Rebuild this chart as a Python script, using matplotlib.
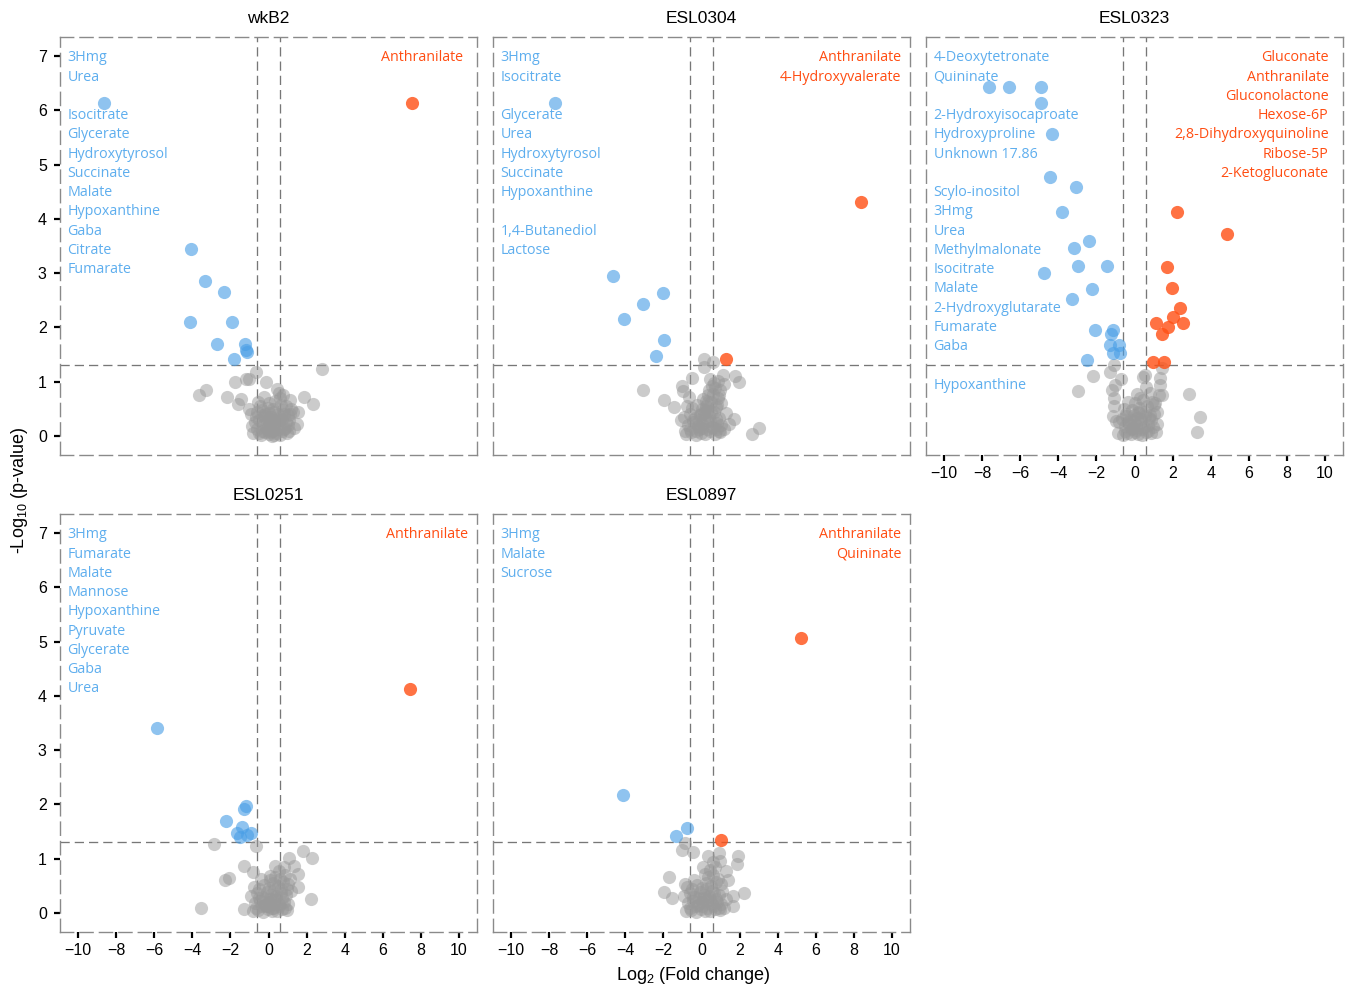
import matplotlib
matplotlib.use("Agg")
import matplotlib.pyplot as plt

plt.rcParams["font.family"] = ["Liberation Sans", "DejaVu Sans"]
plt.rcParams["mathtext.default"] = "regular"

# ---------------------------------------------------------------- data
panel_titles = ["wkB2", "ESL0304", "ESL0323", "ESL0251", "ESL0897"]
x_ticks = [-10, -8, -6, -4, -2, 0, 2, 4, 6, 8, 10]
y_ticks = [0, 1, 2, 3, 4, 5, 6, 7]
fc_cut = 0.585      # log2(1.5)
p_cut = 1.301       # -log10(0.05)

# wkB2
wkb2_down_x = [-8.64, -4.07, -3.33, -2.34, -4.12, -1.92, -2.70, -1.81, -1.23, -1.18, -1.13]
wkb2_down_y = [6.13, 3.44, 2.85, 2.65, 2.10, 2.10, 1.69, 1.42, 1.69, 1.58, 1.55]
wkb2_up_x = [7.53]
wkb2_up_y = [6.13]
wkb2_ns_x = [2.79, -0.66, -1.74, -1.18, -1.01, -0.15, -3.28, -3.63, -2.19, -1.43,
             -1.58, -1.02, -0.24, 0.43, 1.88, 2.32, 0.74, 1.13, 1.08, 1.48,
             1.30, -0.80, -0.60, -0.40, -0.20, 0.00, 0.20, 0.40, 0.60, 0.80,
             -0.70, -0.50, -0.30, -0.10, 0.10, 0.30, 0.50, 0.70, 0.90, 1.10,
             -0.90, -0.60, -0.30, 0.00, 0.25, 0.50, 0.75, 1.00, 1.20, -0.45,
             0.05, 0.35, 0.65, 0.90, -0.15, 0.15, 0.45, -0.35, 0.60, -0.55,
             0.95, -0.85, 0.30, -0.05, 1.35, 0.80, 0.55, 0.20, -0.25, 1.55,
             -0.65, -0.35, -0.05, 0.25, 0.55, 0.85, 1.15, -0.50, -0.20, 0.10,
             0.40, 0.70, 1.00, 0.00, 0.30, 0.60]
wkb2_ns_y = [1.23, 1.17, 1.00, 1.05, 1.05, 1.00, 0.85, 0.76, 0.71, 0.68,
             0.59, 0.49, 0.72, 0.86, 0.71, 0.59, 0.76, 0.66, 0.09, 0.23,
             0.45, 0.05, 0.12, 0.02, 0.08, 0.03, 0.10, 0.05, 0.02, 0.12,
             0.25, 0.30, 0.20, 0.28, 0.18, 0.30, 0.22, 0.32, 0.25, 0.30,
             0.40, 0.45, 0.38, 0.42, 0.50, 0.40, 0.48, 0.38, 0.50, 0.55,
             0.60, 0.65, 0.58, 0.55, 0.15, 0.35, 0.12, 0.48, 0.70, 0.62,
             0.05, 0.18, 0.02, 0.52, 0.15, 0.40, 0.80, 0.00, 0.35, 0.45,
             0.35, 0.10, 0.15, 0.22, 0.30, 0.15, 0.40, 0.05, 0.40, 0.08,
             0.28, 0.10, 0.20, 0.30, 0.45, 0.35]

# ESL0304
e304_down_x = [-7.69, -4.66, -2.04, -3.07, -4.08, -1.97, -2.40]
e304_down_y = [6.13, 2.95, 2.63, 2.44, 2.16, 1.76, 1.47]
e304_up_x = [8.37, 1.30]
e304_up_y = [4.31, 1.41]
e304_ns_x = [0.13, 0.13, 0.60, -0.48, -3.05, -1.98, -1.43, -1.01, -0.99, 1.11,
             1.76, 1.97, 1.18, 0.45, 1.71, 3.03, 2.64, 1.20, 1.29, 0.85,
             -0.80, -0.55, -0.30, -0.05, 0.20, 0.45, 0.70, 0.95, -0.70, -0.45,
             -0.20, 0.05, 0.30, 0.55, 0.80, 1.05, -0.90, -0.60, -0.35, -0.10,
             0.15, 0.40, 0.65, 0.90, -0.75, -0.50, -0.25, 0.00, 0.25, 0.50,
             0.75, 1.00, -0.65, 0.10, 0.35, 0.60, 0.85, 0.70, 0.55, 0.95,
             0.40, -0.15, 0.80, -0.85, 0.25, 1.45, -1.10, 0.65, 0.90, 0.30,
             -0.60, -0.30, 0.00, 0.30, 0.60, 0.90, -0.45, -0.15, 0.15, 0.45,
             0.75, 0.50, 0.20, -0.05, 0.35, 0.80]
e304_ns_y = [1.42, 1.27, 1.36, 1.06, 0.85, 0.66, 0.54, 0.92, 0.82, 1.12,
             1.10, 1.00, 0.96, 1.05, 0.32, 0.15, 0.03, 0.13, 0.43, 1.02,
             0.03, 0.08, 0.02, 0.06, 0.04, 0.09, 0.03, 0.07, 0.20, 0.25,
             0.18, 0.22, 0.28, 0.17, 0.24, 0.20, 0.35, 0.40, 0.33, 0.38,
             0.42, 0.36, 0.45, 0.34, 0.55, 0.52, 0.58, 0.50, 0.56, 0.62,
             0.53, 0.60, 0.72, 0.68, 0.75, 0.78, 0.70, 0.88, 0.92, 0.85,
             0.84, 0.12, 0.12, 0.10, 0.64, 0.22, 0.30, 0.98, 0.76, 0.46,
             0.12, 0.10, 0.14, 0.12, 0.14, 0.10, 0.30, 0.30, 0.30, 0.28,
             0.32, 0.45, 0.48, 0.40, 0.62, 0.58]

# ESL0323
e323_down_x = [-7.64, -6.59, -4.91, -4.91, -4.33, -4.45, -3.07, -3.79, -2.39, -3.19,
               -2.98, -1.43, -4.73, -2.25, -3.28, -2.06, -1.14, -1.23, -1.27, -0.80,
               -1.14, -0.76, -2.51]
e323_down_y = [6.42, 6.42, 6.42, 6.13, 5.57, 4.77, 4.59, 4.12, 3.59, 3.46,
               3.13, 3.13, 3.01, 2.71, 2.53, 1.95, 1.95, 1.87, 1.67, 1.67,
               1.53, 1.53, 1.40]
e323_up_x = [2.25, 4.84, 1.69, 1.97, 2.37, 2.04, 2.56, 1.13, 1.76, 1.43, 0.96, 1.55]
e323_up_y = [4.13, 3.72, 3.12, 2.72, 2.35, 2.20, 2.09, 2.09, 2.01, 1.88, 1.36, 1.36]
e323_ns_x = [-2.19, -2.97, 2.86, 3.42, 3.26, -1.08, -1.29, -0.71, -1.02, -1.06,
             -1.11, -0.85, 0.11, 0.46, 1.43, 1.34, 1.43, 1.34, 1.13, 1.16,
             0.81, 0.55, 1.30, 0.81, -1.10, -1.20, -0.60, -0.40, -0.20, 0.00,
             0.20, 0.40, 0.60, 0.85, -0.50, -0.30, -0.10, 0.10, 0.30, 0.50,
             0.70, 0.95, -0.65, -0.45, -0.25, -0.05, 0.15, 0.35, 0.55, 0.75,
             1.00, -0.55, -0.15, 0.25, 0.65, 1.05, -0.35, 0.05, 0.45, 0.90,
             -0.80, 0.20, 1.20, -0.95, 0.60, -0.50, -0.20, 0.10, 0.40, 0.70,
             -0.35, -0.05, 0.25, 0.55, 0.85, 1.10, -0.45, 0.30]
e323_ns_y = [1.11, 0.82, 0.77, 0.35, 0.07, 1.31, 1.17, 1.05, 0.94, 0.70,
             0.36, 0.05, 0.77, 1.09, 1.25, 1.06, 0.76, 0.94, 0.08, 0.22,
             0.39, 1.12, 0.76, 0.79, 0.55, 0.85, 0.02, 0.06, 0.03, 0.08,
             0.04, 0.02, 0.07, 0.05, 0.18, 0.22, 0.15, 0.20, 0.24, 0.17,
             0.21, 0.16, 0.32, 0.36, 0.30, 0.38, 0.34, 0.31, 0.37, 0.33,
             0.40, 0.50, 0.48, 0.52, 0.55, 0.58, 0.62, 0.60, 0.66, 0.62,
             0.25, 0.45, 0.45, 0.28, 0.90, 0.10, 0.12, 0.11, 0.13, 0.10,
             0.26, 0.27, 0.42, 0.44, 0.30, 0.60, 0.40, 0.70]

# ESL0251
e251_down_x = [-5.87, -1.20, -1.30, -2.25, -1.41, -1.67, -1.50, -0.92, -1.11]
e251_down_y = [3.40, 1.98, 1.91, 1.69, 1.59, 1.48, 1.40, 1.48, 1.43]
e251_up_x = [7.43]
e251_up_y = [4.12]
e251_ns_x = [-2.86, -0.67, 1.83, 2.27, 1.09, -1.27, -2.06, -2.30, -0.83, 1.35,
             1.53, 1.53, 2.23, -3.54, -1.29, 0.34, 0.08, -0.80, -0.55, -0.30,
             -0.05, 0.20, 0.45, 0.70, 0.95, -0.70, -0.45, -0.20, 0.05, 0.30,
             0.55, 0.80, 1.05, -0.90, -0.60, -0.35, -0.10, 0.15, 0.40, 0.65,
             0.90, -0.75, -0.50, -0.25, 0.00, 0.25, 0.50, 0.75, 1.00, -0.40,
             0.10, 0.35, 0.60, 0.85, 1.15, 0.55, 0.80, -0.15, 0.95, 0.20,
             -0.65, -0.35, -0.05, 0.25, 0.55, 0.85, -0.50, -0.20, 0.10, 0.40,
             0.70, 1.20, 0.30, 0.65]
e251_ns_y = [1.27, 1.24, 1.15, 1.02, 1.02, 0.87, 0.65, 0.61, 0.75, 0.87,
             0.72, 0.47, 0.25, 0.10, 0.07, 0.87, 0.68, 0.03, 0.06, 0.02,
             0.08, 0.04, 0.03, 0.07, 0.05, 0.18, 0.22, 0.15, 0.20, 0.24,
             0.17, 0.21, 0.16, 0.32, 0.36, 0.30, 0.38, 0.34, 0.31, 0.37,
             0.33, 0.48, 0.45, 0.52, 0.46, 0.55, 0.50, 0.58, 0.53, 0.62,
             0.60, 0.66, 0.62, 0.70, 0.62, 0.78, 0.85, 0.12, 0.45, 0.10,
             0.10, 0.12, 0.12, 0.10, 0.12, 0.10, 0.28, 0.27, 0.26, 0.25,
             0.28, 0.40, 0.42, 0.45]

# ESL0897
e897_down_x = [-4.12, -0.78, -1.34]
e897_down_y = [2.17, 1.56, 1.42]
e897_up_x = [5.22, 1.02]
e897_up_y = [5.06, 1.35]
e897_ns_x = [-0.87, -1.01, -0.46, 0.36, 0.94, 1.93, 1.85, -1.69, -1.97, -1.56,
             2.23, 1.64, 1.67, 1.41, 1.29, 0.10, 0.62, -0.87, -0.80, -0.55,
             -0.30, -0.05, 0.20, 0.45, 0.70, 0.95, 1.20, -0.70, -0.45, -0.20,
             0.05, 0.30, 0.55, 0.80, 1.05, -0.90, -0.60, -0.35, -0.10, 0.15,
             0.40, 0.65, 0.90, -0.75, -0.50, -0.25, 0.00, 0.25, 0.50, 0.75,
             1.00, 0.35, 0.60, 0.85, 0.20, 0.45, 0.70, -0.40, 1.10, 0.95,
             -0.60, -0.30, 0.00, 0.30, 0.60, 0.90, -0.15, 0.15, 0.45, 0.75,
             -0.45, 1.30, 0.55, 0.25]
e897_ns_y = [1.29, 1.16, 1.12, 1.05, 1.10, 1.05, 0.90, 0.66, 0.39, 0.27,
             0.36, 0.32, 0.13, 0.61, 0.77, 0.84, 0.94, 0.53, 0.03, 0.06,
             0.02, 0.08, 0.04, 0.03, 0.07, 0.05, 0.10, 0.18, 0.22, 0.15,
             0.20, 0.24, 0.17, 0.21, 0.16, 0.32, 0.36, 0.30, 0.38, 0.34,
             0.31, 0.37, 0.33, 0.48, 0.45, 0.52, 0.46, 0.55, 0.50, 0.58,
             0.53, 0.66, 0.70, 0.62, 0.72, 0.80, 0.85, 0.60, 0.40, 0.95,
             0.10, 0.12, 0.12, 0.10, 0.12, 0.10, 0.28, 0.27, 0.26, 0.25,
             0.30, 0.25, 0.40, 0.45]

# metabolite names (blank entries keep the line spacing of the listing)
wkb2_down_names = ["3Hmg", "Urea", "", "Isocitrate", "Glycerate", "Hydroxytyrosol",
                   "Succinate", "Malate", "Hypoxanthine", "Gaba", "Citrate", "Fumarate"]
wkb2_up_names = ["Anthranilate"]
e304_down_names = ["3Hmg", "Isocitrate", "", "Glycerate", "Urea", "Hydroxytyrosol",
                   "Succinate", "Hypoxanthine", "", "1,4-Butanediol", "Lactose"]
e304_up_names = ["Anthranilate", "4-Hydroxyvalerate"]
e323_down_names = ["4-Deoxytetronate", "Quininate", "", "2-Hydroxyisocaproate",
                   "Hydroxyproline", "Unknown 17.86", "", "Scylo-inositol", "3Hmg",
                   "Urea", "Methylmalonate", "Isocitrate", "Malate",
                   "2-Hydroxyglutarate", "Fumarate", "Gaba", "", "Hypoxanthine"]
e323_up_names = ["Gluconate", "Anthranilate", "Gluconolactone", "Hexose-6P",
                 "2,8-Dihydroxyquinoline", "Ribose-5P", "2-Ketogluconate"]
e251_down_names = ["3Hmg", "Fumarate", "Malate", "Mannose", "Hypoxanthine",
                   "Pyruvate", "Glycerate", "Gaba", "Urea"]
e251_up_names = ["Anthranilate"]
e897_down_names = ["3Hmg", "Malate", "Sucrose"]
e897_up_names = ["Anthranilate", "Quininate"]

panels = [
    (wkb2_ns_x, wkb2_ns_y, wkb2_down_x, wkb2_down_y, wkb2_up_x, wkb2_up_y, wkb2_down_names, wkb2_up_names),
    (e304_ns_x, e304_ns_y, e304_down_x, e304_down_y, e304_up_x, e304_up_y, e304_down_names, e304_up_names),
    (e323_ns_x, e323_ns_y, e323_down_x, e323_down_y, e323_up_x, e323_up_y, e323_down_names, e323_up_names),
    (e251_ns_x, e251_ns_y, e251_down_x, e251_down_y, e251_up_x, e251_up_y, e251_down_names, e251_up_names),
    (e897_ns_x, e897_ns_y, e897_down_x, e897_down_y, e897_up_x, e897_up_y, e897_down_names, e897_up_names),
]

# ---------------------------------------------------------------- style
W, H = 1354, 988
grey_pt = "#999999"
blue_pt = "#4a9fe6"
orange_pt = "#ff4f14"
blue_txt = "#5eaeee"
orange_txt = "#ff4d12"
label_font = ["Open Sans", "DejaVu Sans"]

# panel boxes in pixels: (left, top)
boxes = [(60, 37), (493, 37), (926, 37), (60, 514), (493, 514)]
box_w, box_h = 417, 418
show_y = [True, False, False, True, False]
show_x = [False, False, True, True, True]
right_pad = [10.2, 10.5, 10.2, 10.5, 10.5]

fig = plt.figure(figsize=(W / 100, H / 100), dpi=100)

for i, (box, data) in enumerate(zip(boxes, panels)):
    nsx, nsy, dx, dy, ux, uy, dnames, unames = data
    left, top = box
    ax = fig.add_axes([left / W, 1 - (top + box_h) / H, box_w / W, box_h / H])
    ax.set_xlim(-10.95, 10.95)
    ax.set_ylim(-0.35, 7.35)

    ax.scatter(nsx, nsy, s=90, color=grey_pt, alpha=0.5, linewidths=0, zorder=2)
    ax.scatter(dx, dy, s=90, color=blue_pt, alpha=0.62, linewidths=0, zorder=3)
    ax.scatter(ux, uy, s=90, color=orange_pt, alpha=0.8, linewidths=0, zorder=3)

    ref = dict(color="#777777", lw=0.95, ls=(0, (7, 3.8)), zorder=1)
    ax.axvline(-fc_cut, **ref)
    ax.axvline(fc_cut, **ref)
    ax.axhline(p_cut, **ref)

    for k, name in enumerate(dnames):
        if name:
            ax.text(-10.55, 6.965 - k * 0.3545, name, color=blue_txt, fontsize=10.3,
                    family=label_font, ha="left", va="center", zorder=4)
    for k, name in enumerate(unames):
        ax.text(right_pad[i], 6.965 - k * 0.3545, name, color=orange_txt, fontsize=10.3,
                family=label_font, ha="right", va="center", zorder=4)

    for sp in ax.spines.values():
        sp.set_color("#8a8a8a")
        sp.set_linewidth(1.0)
        sp.set_linestyle((0, (9.5, 4.5)))

    ax.set_title(panel_titles[i], fontsize=12.5, pad=10)
    ax.set_xticks(x_ticks)
    ax.set_yticks(y_ticks)
    ax.tick_params(length=4.5, width=1.6, color="black", labelsize=11.5, pad=3.5)
    ax.tick_params(axis="y", pad=5)
    if not show_x[i]:
        ax.tick_params(axis="x", length=0, labelbottom=False)
    if not show_y[i]:
        ax.tick_params(axis="y", length=0, labelleft=False)

fig.text(20 / W, 1 - 490 / H, "-Log$_{10}$ (p-value)", rotation=90,
         ha="center", va="center", fontsize=13)
fig.text(693 / W, 1 - 975 / H, "Log$_{2}$ (Fold change)",
         ha="center", va="center", fontsize=13)

fig.savefig("out.png", dpi=100)
